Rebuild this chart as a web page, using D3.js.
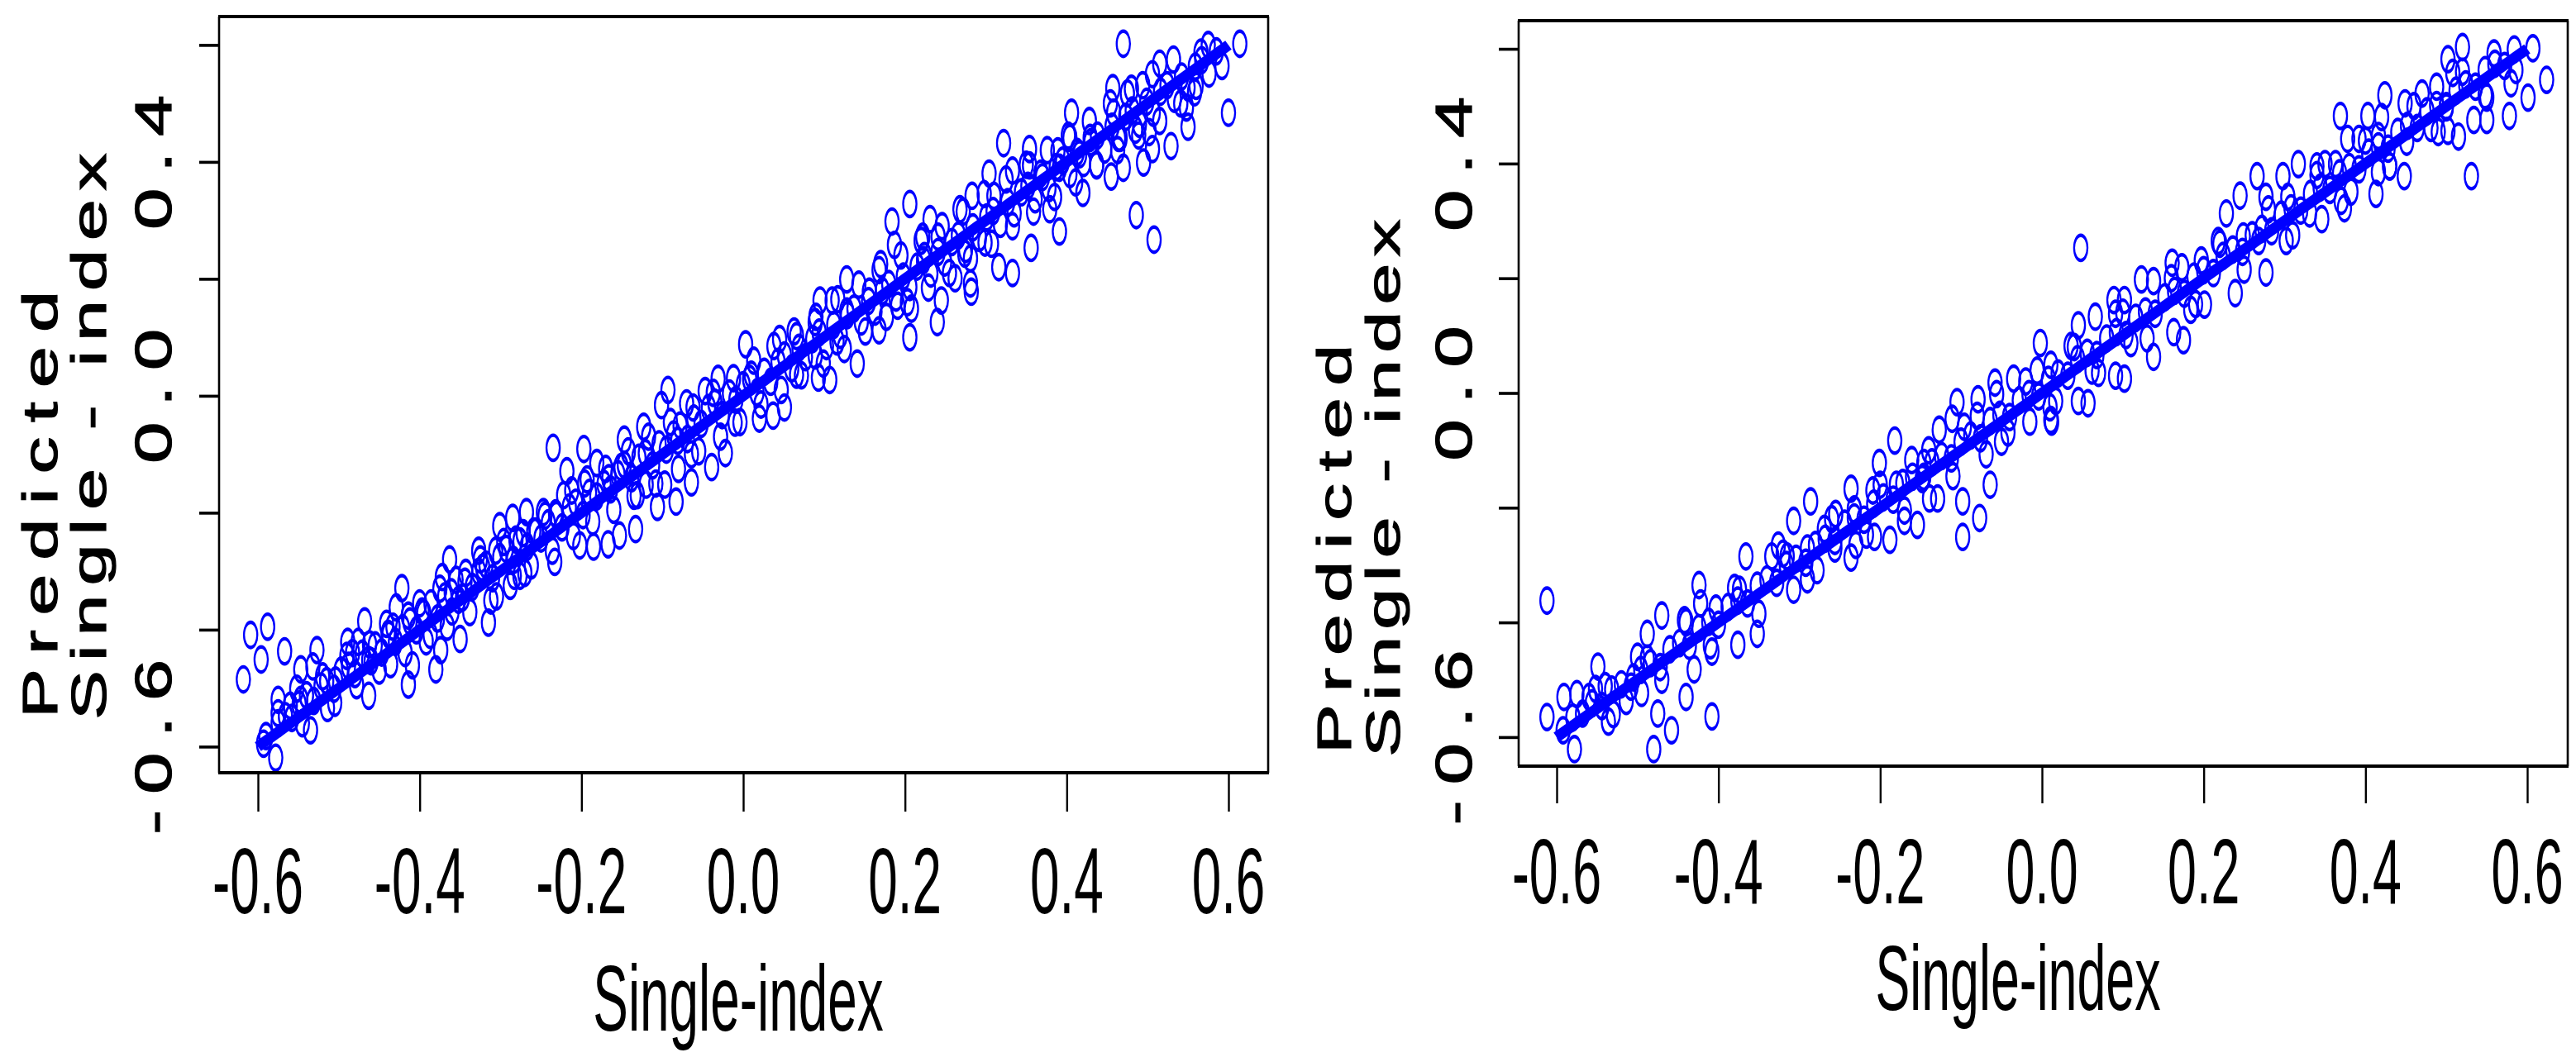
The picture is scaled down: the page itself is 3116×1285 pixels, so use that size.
<!DOCTYPE html>
<html>
<head>
<meta charset="utf-8">
<script src="https://cdn.jsdelivr.net/npm/d3@7"></script>
<style>
body{margin:0;background:#fff;}
text{font-family:"Liberation Sans",Arial,sans-serif;fill:#000;}
</style>
</head>
<body>
<svg id="fig" width="3116" height="1285"></svg>
<script>
// axis ticks and labels
var xTicks = [-0.6,-0.4,-0.2,0.0,0.2,0.4,0.6];
var yTicks = [-0.6,-0.4,-0.2,0.0,0.2,0.4,0.6];
var yTickLabels = [-0.6,0.0,0.4];
var xTitle = "Single-index";
var yTitle = ["Predicted","Single - index"];

// fitted line (predicted = single-index)
var fitLine = [[-0.6,-0.6],[0.6,0.6]];

// left panel: single-index vs predicted
var leftPoints = [
[-0.618,-0.485],[-0.609,-0.409],[-0.588,-0.395],[-0.596,-0.451],[-0.567,-0.437],[-0.575,-0.520],[-0.578,-0.619],
[-0.547,-0.468],[-0.552,-0.501],[-0.527,-0.435],[-0.532,-0.463],[-0.535,-0.572],[-0.514,-0.534],[-0.489,-0.421],
[-0.468,-0.386],[-0.476,-0.421],[-0.463,-0.513],[-0.504,-0.487],[-0.441,-0.390],[-0.436,-0.459],[-0.422,-0.329],
[-0.409,-0.461],[-0.414,-0.494],[-0.429,-0.362],[-0.374,-0.435],[-0.380,-0.468],[-0.350,-0.416],[-0.387,-0.409],
[-0.363,-0.280],[-0.315,-0.388],[-0.305,-0.343],[-0.327,-0.265],[-0.301,-0.223],[-0.276,-0.308],[-0.285,-0.209],
[-0.268,-0.199],[-0.233,-0.284],[-0.235,-0.089],[-0.197,-0.091],[-0.218,-0.129],[-0.181,-0.115],[-0.202,-0.256],
[-0.185,-0.258],[-0.167,-0.254],[-0.247,-0.199],[-0.231,-0.204],[-0.147,-0.075],[-0.123,-0.053],[-0.093,0.010],
[-0.101,-0.016],[-0.070,-0.013],[-0.047,0.008],[-0.031,0.029],[-0.010,-0.046],[-0.022,-0.098],[-0.039,-0.122],
[-0.064,-0.148],[-0.083,-0.181],[-0.106,-0.190],[-0.133,-0.228],[-0.153,-0.239],[-0.135,-0.171],[-0.166,-0.141],
[-0.151,-0.122],[-0.120,-0.152],[-0.097,-0.152],[-0.064,-0.100],[-0.081,-0.077],[-0.193,-0.143],[-0.212,-0.162],
[-0.256,-0.232],[-0.281,-0.246],[-0.306,-0.265],[-0.283,-0.308],[-0.270,-0.303],[-0.322,-0.294],[-0.343,-0.303],
[-0.372,-0.310],[-0.360,-0.369],[-0.347,-0.345],[-0.397,-0.369],[-0.414,-0.376],[-0.439,-0.407],[-0.460,-0.454],
[-0.483,-0.440],[-0.547,-0.520],[-0.575,-0.543],[-0.593,-0.595],
[0.470,0.602],[0.614,0.602],[0.515,0.568],[0.566,0.587],[0.592,0.564],[0.600,0.484],[0.486,0.309],[0.508,0.267],
[0.457,0.526],[0.475,0.517],[0.494,0.531],[0.548,0.493],[0.558,0.519],[0.550,0.460],[0.529,0.427],[0.495,0.399],
[0.506,0.422],[0.470,0.390],[0.455,0.375],[0.406,0.484],[0.404,0.441],[0.429,0.441],[0.458,0.484],[0.466,0.441],
[0.485,0.455],[0.502,0.451],[0.322,0.432],[0.354,0.422],[0.389,0.418],[0.354,0.394],[0.333,0.385],[0.304,0.380],
[0.283,0.342],[0.268,0.319],[0.310,0.342],[0.368,0.380],[0.391,0.390],[0.420,0.347],[0.437,0.394],[0.391,0.281],
[0.356,0.253],[0.206,0.328],[0.184,0.298],[0.231,0.302],[0.241,0.272],[0.222,0.272],[0.187,0.258],[0.170,0.225],
[0.128,0.199],[0.095,0.163],[0.110,0.163],[0.089,0.126],[0.116,0.093],[0.141,0.055],[0.168,0.112],[0.206,0.100],
[0.240,0.126],[0.281,0.192],[0.316,0.220],[0.333,0.210],[0.282,0.178],[0.245,0.163],[0.208,0.149],[0.003,0.088],
[0.066,0.036],[0.093,0.031],[0.107,0.027],[0.051,-0.020],[0.020,-0.039],[0.045,0.097],[0.066,0.102],[0.128,0.144],
[0.156,0.178],[0.191,0.154],[0.262,0.201],[0.299,0.262],[0.274,0.243],[0.224,0.239],[0.379,0.319],[0.416,0.413],
[0.037,-0.034],[0.010,0.036],[0.089,0.069],
[-0.590,-0.582],[-0.575,-0.560],[-0.566,-0.548],[-0.558,-0.551],[-0.549,-0.528],[-0.540,-0.512],[-0.531,-0.522],
[-0.522,-0.497],[-0.515,-0.488],[-0.506,-0.501],[-0.497,-0.470],[-0.488,-0.462],[-0.480,-0.476],[-0.471,-0.441],
[-0.463,-0.452],[-0.455,-0.427],[-0.447,-0.439],[-0.438,-0.409],[-0.430,-0.421],[-0.421,-0.398],[-0.412,-0.386],
[-0.404,-0.401],[-0.395,-0.372],[-0.386,-0.355],[-0.378,-0.381],[-0.369,-0.343],[-0.361,-0.336],[-0.352,-0.349],
[-0.344,-0.318],[-0.335,-0.327],[-0.327,-0.301],[-0.318,-0.289],[-0.310,-0.312],[-0.301,-0.276],[-0.293,-0.262],
[-0.284,-0.281],[-0.276,-0.249],[-0.267,-0.258],[-0.259,-0.232],[-0.250,-0.244],[-0.241,-0.218],[-0.232,-0.201],
[-0.224,-0.225],[-0.215,-0.191],[-0.207,-0.183],[-0.198,-0.204],[-0.190,-0.166],[-0.181,-0.172],[-0.172,-0.151],
[-0.164,-0.160],[-0.155,-0.134],[-0.147,-0.118],[-0.138,-0.141],[-0.129,-0.106],[-0.121,-0.098],[-0.112,-0.119],
[-0.104,-0.083],[-0.095,-0.092],[-0.086,-0.066],[-0.078,-0.051],[-0.069,-0.074],[-0.061,-0.039],[-0.052,-0.048],
[-0.043,-0.021],[-0.035,-0.012],[-0.026,-0.033],[-0.017,0.004],[-0.009,-0.007],[0.000,0.018],[0.008,0.029],
[0.017,0.006],[0.026,0.041],[0.034,0.024],[0.043,0.058],[0.051,0.069],[0.060,0.047],[0.069,0.082],[0.077,0.066],
[0.086,0.097],[0.094,0.108],[0.103,0.085],[0.112,0.121],[0.120,0.104],[0.129,0.138],[0.137,0.149],[0.146,0.127],
[0.155,0.162],[0.163,0.144],[0.172,0.179],[0.180,0.191],[0.189,0.168],[0.198,0.204],[0.206,0.186],[0.215,0.221],
[0.223,0.232],[0.232,0.209],[0.241,0.246],[0.249,0.228],[0.258,0.263],[0.266,0.274],[0.275,0.251],[0.284,0.288],
[0.292,0.270],[0.301,0.305],[0.309,0.316],[0.318,0.294],[0.327,0.331],[0.335,0.312],[0.344,0.348],[0.352,0.359],
[0.361,0.336],[0.370,0.374],[0.378,0.355],[0.387,0.391],[0.395,0.402],[0.404,0.379],[0.413,0.417],[0.421,0.398],
[0.430,0.434],[0.438,0.445],[0.447,0.421],[0.456,0.460],[0.464,0.441],[0.473,0.477],[0.481,0.488],[0.490,0.465],
[0.499,0.503],[0.507,0.484],[0.516,0.520],[0.524,0.531],[0.533,0.508],[0.542,0.546],[0.550,0.527],[0.559,0.563],
[0.567,0.574],[0.576,0.551],[0.585,0.589],
[-0.560,-0.530],[-0.545,-0.560],[-0.520,-0.480],[-0.505,-0.525],[-0.490,-0.445],[-0.478,-0.495],[-0.462,-0.425],
[-0.450,-0.470],[-0.433,-0.395],[-0.418,-0.440],[-0.400,-0.355],[-0.392,-0.420],[-0.375,-0.330],[-0.366,-0.395],
[-0.355,-0.315],[-0.338,-0.370],[-0.325,-0.280],[-0.312,-0.350],[-0.296,-0.250],[-0.288,-0.325],[-0.272,-0.235],
[-0.262,-0.290],[-0.245,-0.205],[-0.236,-0.265],[-0.222,-0.170],[-0.210,-0.240],[-0.196,-0.150],[-0.186,-0.215],
[-0.170,-0.125],[-0.160,-0.195],[-0.142,-0.095],[-0.131,-0.170],[-0.117,-0.070],[-0.108,-0.150],[-0.090,-0.045],
[-0.080,-0.125],[-0.062,-0.020],[-0.055,-0.095],[-0.037,0.005],[-0.028,-0.070],[-0.012,0.030],[-0.004,-0.045],
[0.013,0.060],[0.022,-0.015],[0.038,0.085],[0.047,0.010],[0.063,0.110],[0.072,0.035],[0.090,0.135],[0.099,0.055],
[0.117,0.165],[0.125,0.080],[0.143,0.190],[0.151,0.110],[0.168,0.215],[0.177,0.135],[0.195,0.240],[0.203,0.160],
[0.220,0.265],[0.229,0.185],[0.246,0.290],[0.255,0.210],[0.272,0.315],[0.281,0.235],[0.298,0.345],[0.307,0.260],
[0.325,0.370],[0.333,0.290],[0.350,0.395],[0.359,0.315],[0.376,0.420],[0.385,0.340],[0.402,0.445],[0.411,0.365],
[0.428,0.470],[0.437,0.395],[0.454,0.500],[0.463,0.420],[0.480,0.525],[0.489,0.445],[0.506,0.550],[0.515,0.470],
[0.532,0.575],[0.541,0.500],[0.560,0.530],[0.575,0.600]
];

// right panel: single-index vs predicted
var rightPoints = [
[-0.612,-0.362],[-0.612,-0.565],[-0.591,-0.530],[-0.575,-0.525],[-0.578,-0.621],[-0.549,-0.477],[-0.552,-0.516],
[-0.540,-0.511],[-0.536,-0.573],[-0.514,-0.537],[-0.505,-0.496],[-0.495,-0.523],[-0.480,-0.621],[-0.475,-0.559],
[-0.458,-0.588],[-0.440,-0.530],[-0.488,-0.420],[-0.488,-0.463],[-0.470,-0.388],[-0.442,-0.396],[-0.430,-0.482],
[-0.424,-0.335],[-0.422,-0.367],[-0.408,-0.451],[-0.408,-0.564],[-0.403,-0.376],[-0.376,-0.439],[-0.374,-0.343],
[-0.352,-0.420],[-0.366,-0.285],[-0.334,-0.285],[-0.326,-0.266],[-0.315,-0.285],[-0.307,-0.343],[-0.307,-0.223],
[-0.290,-0.271],[-0.286,-0.189],[-0.278,-0.309],[-0.269,-0.237],[-0.255,-0.211],[-0.256,-0.271],[-0.236,-0.287],
[-0.236,-0.167],[-0.232,-0.203],[-0.209,-0.170],[-0.207,-0.251],[-0.201,-0.122],[-0.188,-0.256],[-0.182,-0.083],
[-0.180,-0.160],[-0.170,-0.223],[-0.154,-0.230],[-0.161,-0.117],[-0.146,-0.122],[-0.139,-0.184],[-0.129,-0.184],
[-0.127,-0.064],[-0.105,-0.016],[-0.098,-0.189],[-0.098,-0.251],[-0.077,-0.218],[-0.069,-0.107],[-0.064,-0.160],
[-0.079,-0.011],[-0.058,0.018],[-0.042,-0.069],[-0.035,0.025],[-0.015,-0.050],[0.012,-0.050],[-0.096,-0.059],
[-0.111,-0.045],[-0.056,-0.002],[-0.146,-0.146],[-0.217,-0.247],
[0.048,0.253],[0.520,0.603],[0.502,0.582],[0.607,0.601],[0.624,0.546],[0.559,0.592],[0.586,0.563],[0.601,0.515],
[0.548,0.519],[0.578,0.483],[0.550,0.476],[0.534,0.476],[0.531,0.378],[0.508,0.558],[0.488,0.534],[0.470,0.522],
[0.500,0.500],[0.481,0.462],[0.515,0.447],[0.502,0.457],[0.449,0.505],[0.424,0.519],[0.451,0.438],[0.420,0.481],
[0.403,0.483],[0.369,0.483],[0.378,0.443],[0.392,0.443],[0.416,0.448],[0.317,0.399],[0.340,0.395],[0.350,0.399],
[0.363,0.399],[0.416,0.385],[0.430,0.395],[0.448,0.378],[0.413,0.347],[0.382,0.351],[0.374,0.322],[0.266,0.378],
[0.298,0.378],[0.245,0.344],[0.277,0.342],[0.304,0.342],[0.228,0.313],[0.346,0.303],[0.331,0.313],[0.218,0.265],
[0.249,0.273],[0.268,0.265],[0.302,0.265],[0.277,0.210],[0.161,0.227],[0.173,0.219],[0.197,0.231],[0.123,0.198],
[0.138,0.195],[0.239,0.174],[0.184,0.145],[0.201,0.154],[0.089,0.162],[0.102,0.162],[0.066,0.133],[0.045,0.118],
[0.175,0.092],[0.138,0.063],[0.163,0.106],[0.110,0.087],[0.036,0.082],[-0.002,0.087],[0.062,0.039],[0.091,0.030],
[0.102,0.025],[0.045,-0.014],[0.057,-0.018],[0.017,-0.014],[0.011,-0.047],[-0.006,0.039],[0.091,0.138],[0.011,0.049],
[-0.592,-0.588],[-0.580,-0.566],[-0.568,-0.559],[-0.556,-0.541],[-0.544,-0.546],[-0.532,-0.517],[-0.520,-0.508],
[-0.508,-0.512],[-0.496,-0.483],[-0.484,-0.471],[-0.472,-0.478],[-0.460,-0.447],[-0.448,-0.436],[-0.436,-0.441],
[-0.424,-0.410],[-0.412,-0.399],[-0.400,-0.404],[-0.388,-0.373],[-0.376,-0.362],[-0.364,-0.367],[-0.352,-0.336],
[-0.340,-0.325],[-0.328,-0.331],[-0.316,-0.300],[-0.304,-0.289],[-0.292,-0.296],[-0.280,-0.265],[-0.268,-0.254],
[-0.256,-0.258],[-0.244,-0.228],[-0.232,-0.217],[-0.220,-0.221],[-0.208,-0.193],[-0.196,-0.182],[-0.184,-0.186],
[-0.172,-0.157],[-0.160,-0.146],[-0.148,-0.150],[-0.136,-0.121],[-0.124,-0.110],[-0.112,-0.114],[-0.100,-0.085],
[-0.088,-0.074],[-0.076,-0.079],[-0.064,-0.049],[-0.052,-0.038],[-0.040,-0.042],[-0.028,-0.013],[-0.016,-0.002],
[-0.004,-0.006],[0.008,0.023],[0.020,0.034],[0.032,0.030],[0.044,0.059],[0.056,0.070],[0.068,0.066],[0.080,0.095],
[0.092,0.106],[0.104,0.101],[0.116,0.131],[0.128,0.142],[0.140,0.138],[0.152,0.167],[0.164,0.178],[0.176,0.173],
[0.188,0.203],[0.200,0.214],[0.212,0.209],[0.224,0.239],[0.236,0.250],[0.248,0.246],[0.260,0.275],[0.272,0.286],
[0.284,0.282],[0.296,0.311],[0.308,0.322],[0.320,0.318],[0.332,0.347],[0.344,0.358],[0.356,0.354],[0.368,0.383],
[0.380,0.394],[0.392,0.390],[0.404,0.419],[0.416,0.430],[0.428,0.426],[0.440,0.455],[0.452,0.466],[0.464,0.462],
[0.476,0.491],[0.488,0.502],[0.500,0.498],[0.512,0.527],[0.524,0.538],[0.536,0.534],[0.548,0.563],[0.560,0.574],
[0.572,0.570],[0.584,0.599],
[-0.560,-0.530],[-0.530,-0.560],[-0.500,-0.460],[-0.470,-0.500],[-0.440,-0.400],[-0.410,-0.440],[-0.380,-0.340],
[-0.350,-0.385],[-0.320,-0.280],[-0.290,-0.325],[-0.260,-0.220],[-0.230,-0.265],[-0.200,-0.160],[-0.170,-0.205],
[-0.140,-0.100],[-0.110,-0.145],[-0.080,-0.040],[-0.050,-0.085],[-0.020,0.020],[0.010,-0.025],[0.040,0.080],
[0.070,0.035],[0.100,0.140],[0.130,0.095],[0.160,0.200],[0.190,0.155],[0.220,0.260],[0.250,0.215],[0.280,0.320],
[0.310,0.275],[0.340,0.380],[0.370,0.335],[0.400,0.440],[0.430,0.395],[0.460,0.500],[0.490,0.455],[0.520,0.560],
[0.550,0.515],[0.580,0.540]
];

var blue = "#0000ff";
var svg = d3.select("#fig");
svg.append("rect").attr("width",3116).attr("height",1285).attr("fill","#fff");

// the figure is squeezed sideways, so text and markers get a horizontal scale
var squeeze = 0.53;

function label(d){
	return d.toFixed(1);
}

function drawPanel(points, p){
	var x = d3.scaleLinear().domain([-0.6,0.6]).range(p.xr);
	var y = d3.scaleLinear().domain([-0.6,0.6]).range(p.yr);
	var g = svg.append("g");

	//points
	g.append("g").selectAll("circle")
	.data(points)
	.enter()
	.append("circle")
	.attr("r",15.2)
	.attr("transform",function(d){ return "translate(" + x(d[0]) + "," + y(d[1]) + ") scale(" + squeeze + ",1)"; })
	.attr("fill","none")
	.attr("stroke",blue)
	.attr("stroke-width",4.4);

	//thick fitted line
	g.append("path")
	.datum(fitLine)
	.attr("d",d3.line().x(function(d){return x(d[0]);}).y(function(d){return y(d[1]);}))
	.attr("stroke",blue)
	.attr("stroke-width",13)
	.attr("fill","none");

	//box
	var b = p.box;
	g.append("line").attr("x1",b[0]-1).attr("x2",b[1]+1).attr("y1",b[2]).attr("y2",b[2]).attr("stroke","#000").attr("stroke-width",4);
	g.append("line").attr("x1",b[0]-1).attr("x2",b[1]+1).attr("y1",b[3]).attr("y2",b[3]).attr("stroke","#000").attr("stroke-width",4);
	g.append("line").attr("x1",b[0]).attr("x2",b[0]).attr("y1",b[2]).attr("y2",b[3]).attr("stroke","#000").attr("stroke-width",2.6);
	g.append("line").attr("x1",b[1]).attr("x2",b[1]).attr("y1",b[2]).attr("y2",b[3]).attr("stroke","#000").attr("stroke-width",2.6);

	//tick marks from d3 axes
	var xa = g.append("g").attr("transform","translate(0," + b[3] + ")")
	.call(d3.axisBottom(x).tickValues(xTicks).tickSize(p.xTickLen).tickSizeOuter(0).tickFormat(""));
	xa.select(".domain").remove();
	xa.selectAll("line").attr("stroke","#000").attr("stroke-width",2.4);

	var ya = g.append("g").attr("transform","translate(" + b[0] + ",0)")
	.call(d3.axisLeft(y).tickValues(yTicks).tickSize(p.yTickLen).tickSizeOuter(0).tickFormat(""));
	ya.select(".domain").remove();
	ya.selectAll("line").attr("stroke","#000").attr("stroke-width",3.6);

	//x tick labels
	g.append("g").selectAll("text")
	.data(xTicks)
	.enter()
	.append("text")
	.attr("text-anchor","middle")
	.attr("font-size",p.xFont)
	.attr("transform",function(d){ return "translate(" + x(d) + "," + p.xLabY + ") scale(0.56,1)"; })
	.text(label);

	//x title
	g.append("text")
	.attr("text-anchor","middle")
	.attr("font-size",p.xFont)
	.attr("transform","translate(" + p.xTitle[0] + "," + p.xTitle[1] + ") scale(0.56,1)")
	.text(xTitle);

	//y tick labels, turned and spread out
	g.append("g").selectAll("text")
	.data(yTickLabels)
	.enter()
	.append("text")
	.attr("text-anchor","middle")
	.attr("font-size",100)
	.attr("stroke","#000")
	.attr("stroke-width",2)
	.attr("letter-spacing",21)
	.attr("dx",10)
	.attr("transform",function(d){ return "translate(" + p.yLabX + "," + y(d) + ") rotate(-90) scale(0.9,0.63)"; })
	.text(label);

	//y title, two lines
	g.append("g").selectAll("text")
	.data(yTitle)
	.enter()
	.append("text")
	.attr("text-anchor","start")
	.attr("font-size",100)
	.attr("stroke","#000")
	.attr("stroke-width",2)
	.attr("letter-spacing",function(d,i){ return p.yTitleLs[i]; })
	.attr("transform",function(d,i){ return "translate(" + p.yTitleX[i] + "," + p.yTitleStart[i] + ") rotate(-90) scale(0.9," + p.yTitleSq + ")"; })
	.text(function(d){ return d; });
}

drawPanel(leftPoints,{
	box:[265,1534,20,935], xr:[312,1486], yr:[903.4,54.4],
	xTickLen:47, yTickLen:24, xFont:114, xLabY:1105, xTitle:[893,1247],
	yLabX:207, yTitleX:[69,127.5], yTitleStart:[869,871], yTitleSq:0.6, yTitleLs:[19,12]
});
drawPanel(rightPoints,{
	box:[1837,3106,25,927], xr:[1883,3057], yr:[891.9,59.1],
	xTickLen:45, yTickLen:24, xFont:112, xLabY:1093, xTitle:[2441,1222],
	yLabX:1780, yTitleX:[1634,1693], yTitleStart:[912,916], yTitleSq:0.57, yTitleLs:[16,9]
});
</script>
</body>
</html>
